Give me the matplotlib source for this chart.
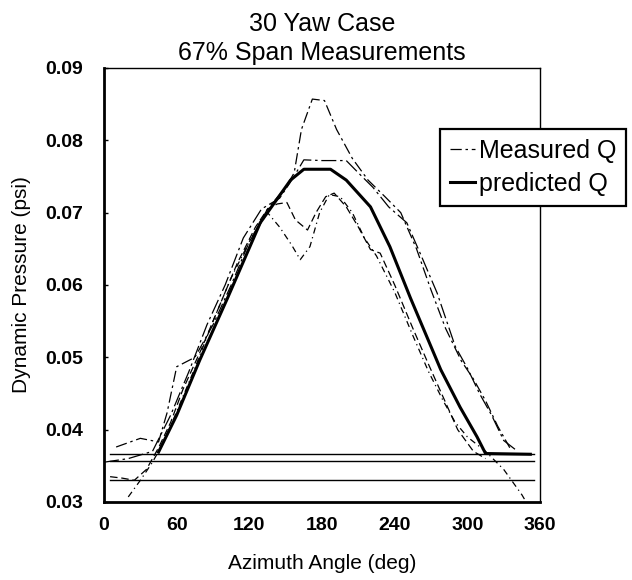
import matplotlib.pyplot as plt

plt.rcParams["font.family"] = ["Liberation Sans", "DejaVu Sans"]

# predicted dynamic pressure (psi) vs azimuth (deg)
pred_az = [45, 60, 79, 102, 129, 154, 165, 187, 200, 220, 236, 253, 278, 294, 308, 315, 352]
pred_q = [0.0369, 0.0420, 0.0496, 0.0582, 0.0686, 0.0745, 0.0760, 0.0760, 0.0745, 0.0708,
          0.0653, 0.0582, 0.0483, 0.0431, 0.0390, 0.0367, 0.0366]

# measured runs
m1_az = [10, 30, 45, 52, 60, 75, 90, 105, 120, 135, 150, 157, 163, 172, 182, 192, 205, 218,
         232, 245, 258, 270, 282, 295, 305, 315, 325, 335]
m1_q = [0.0376, 0.0388, 0.0383, 0.0423, 0.0487, 0.0500, 0.0545, 0.0600, 0.0660, 0.0705, 0.0735,
        0.0755, 0.0815, 0.0857, 0.0855, 0.0815, 0.0775, 0.0745, 0.0722, 0.0700, 0.0650, 0.0593,
        0.0540, 0.0495, 0.0470, 0.0440, 0.0405, 0.0375]

m2_az = [0, 20, 40, 55, 70, 85, 100, 115, 130, 145, 155, 165, 180, 200, 210, 222, 235, 250,
         262, 275, 290, 300, 310, 320, 330, 340]
m2_q = [0.0355, 0.0360, 0.0370, 0.0420, 0.0480, 0.0545, 0.0600, 0.0665, 0.0705, 0.0720, 0.0745,
        0.0773, 0.0772, 0.0772, 0.0755, 0.0735, 0.0708, 0.0686, 0.0640, 0.0589, 0.0515, 0.0485,
        0.0450, 0.0420, 0.0385, 0.0372]

m3_az = [5, 15, 25, 35, 45, 55, 65, 80, 95, 110, 125, 135, 143, 151, 158, 168, 175, 183, 190,
         200, 210, 220, 228, 240, 255, 268, 280, 292, 305, 315]
m3_q = [0.0335, 0.0333, 0.0330, 0.0345, 0.0375, 0.0410, 0.0455, 0.0510, 0.0570, 0.0630, 0.0680,
        0.0705, 0.0712, 0.0714, 0.0690, 0.0676, 0.0700, 0.0722, 0.0727, 0.0708, 0.0680, 0.0649,
        0.0644, 0.0600, 0.0540, 0.0490, 0.0445, 0.0400, 0.0370, 0.0360]

m4_az = [20, 30, 40, 50, 60, 75, 90, 105, 120, 135, 145, 155, 162, 170, 178, 186, 195, 205,
         215, 225, 240, 255, 268, 280, 290, 300, 315, 330, 345, 352]
m4_q = [0.0307, 0.0330, 0.0355, 0.0385, 0.0425, 0.0485, 0.0550, 0.0610, 0.0660, 0.0700, 0.0680,
        0.0655, 0.0635, 0.0653, 0.0700, 0.0725, 0.0722, 0.0700, 0.0665, 0.0640, 0.0590, 0.0530,
        0.0480, 0.0440, 0.0410, 0.0390, 0.0370, 0.0345, 0.0310, 0.0290]

# flat reference levels
ref_az = [5, 355]
ref_levels = [0.0366, 0.0357, 0.0330]

xticks = [0, 60, 120, 180, 240, 300, 360]
yticks = [0.03, 0.04, 0.05, 0.06, 0.07, 0.08, 0.09]

fig = plt.figure(figsize=(6.32, 5.8), dpi=100)
ax = fig.add_axes([0.1646, 0.1345, 0.6899, 0.7483])

for level in ref_levels:
    ax.plot(ref_az, [level, level], color="black", linewidth=1.0)

ax.plot(m1_az, m1_q, color="black", linewidth=0.9, linestyle=(0, (9, 3, 2, 3)), label="Measured Q")
ax.plot(m2_az, m2_q, color="black", linewidth=0.9, linestyle=(0, (12, 3, 2, 3)))
ax.plot(m3_az, m3_q, color="black", linewidth=0.9, linestyle=(0, (6, 3)))
ax.plot(m4_az, m4_q, color="black", linewidth=0.9, linestyle=(0, (5, 3, 1, 3)))
ax.plot(pred_az, pred_q, color="black", linewidth=2.2, label="predicted Q")

ax.set_xlim(0, 360)
ax.set_ylim(0.03, 0.09)
ax.set_xticks(xticks)
ax.set_yticks(yticks)
ax.set_yticklabels([f"{v:.2f}" for v in yticks])
ax.tick_params(axis="y", direction="in", length=3, width=1, labelsize=14, pad=15)
ax.tick_params(axis="x", length=0, labelsize=14, pad=11)
for lab in ax.get_xticklabels() + ax.get_yticklabels():
    lab.set_fontweight("bold")

for side in ["left", "bottom"]:
    ax.spines[side].set_linewidth(2)
for side in ["top", "right"]:
    ax.spines[side].set_linewidth(1)

ax.set_xlabel("Azimuth Angle (deg)", fontsize=15, labelpad=14)
ax.set_ylabel("Dynamic Pressure (psi)", fontsize=15, labelpad=10)
ax.set_title("30 Yaw Case\n67% Span Measurements", fontsize=18, linespacing=1.25, pad=6)

leg = fig.legend(loc="upper left", bbox_to_anchor=(440 / 632, 1 - 129 / 580), fontsize=18,
                 frameon=True, fancybox=False, edgecolor="black", framealpha=1,
                 handlelength=1.0, handletextpad=0.15, borderpad=0.4, labelspacing=0.35,
                 borderaxespad=0)
leg.get_frame().set_linewidth(1.6)

fig.savefig("out.png", dpi=100)
plt.close(fig)
